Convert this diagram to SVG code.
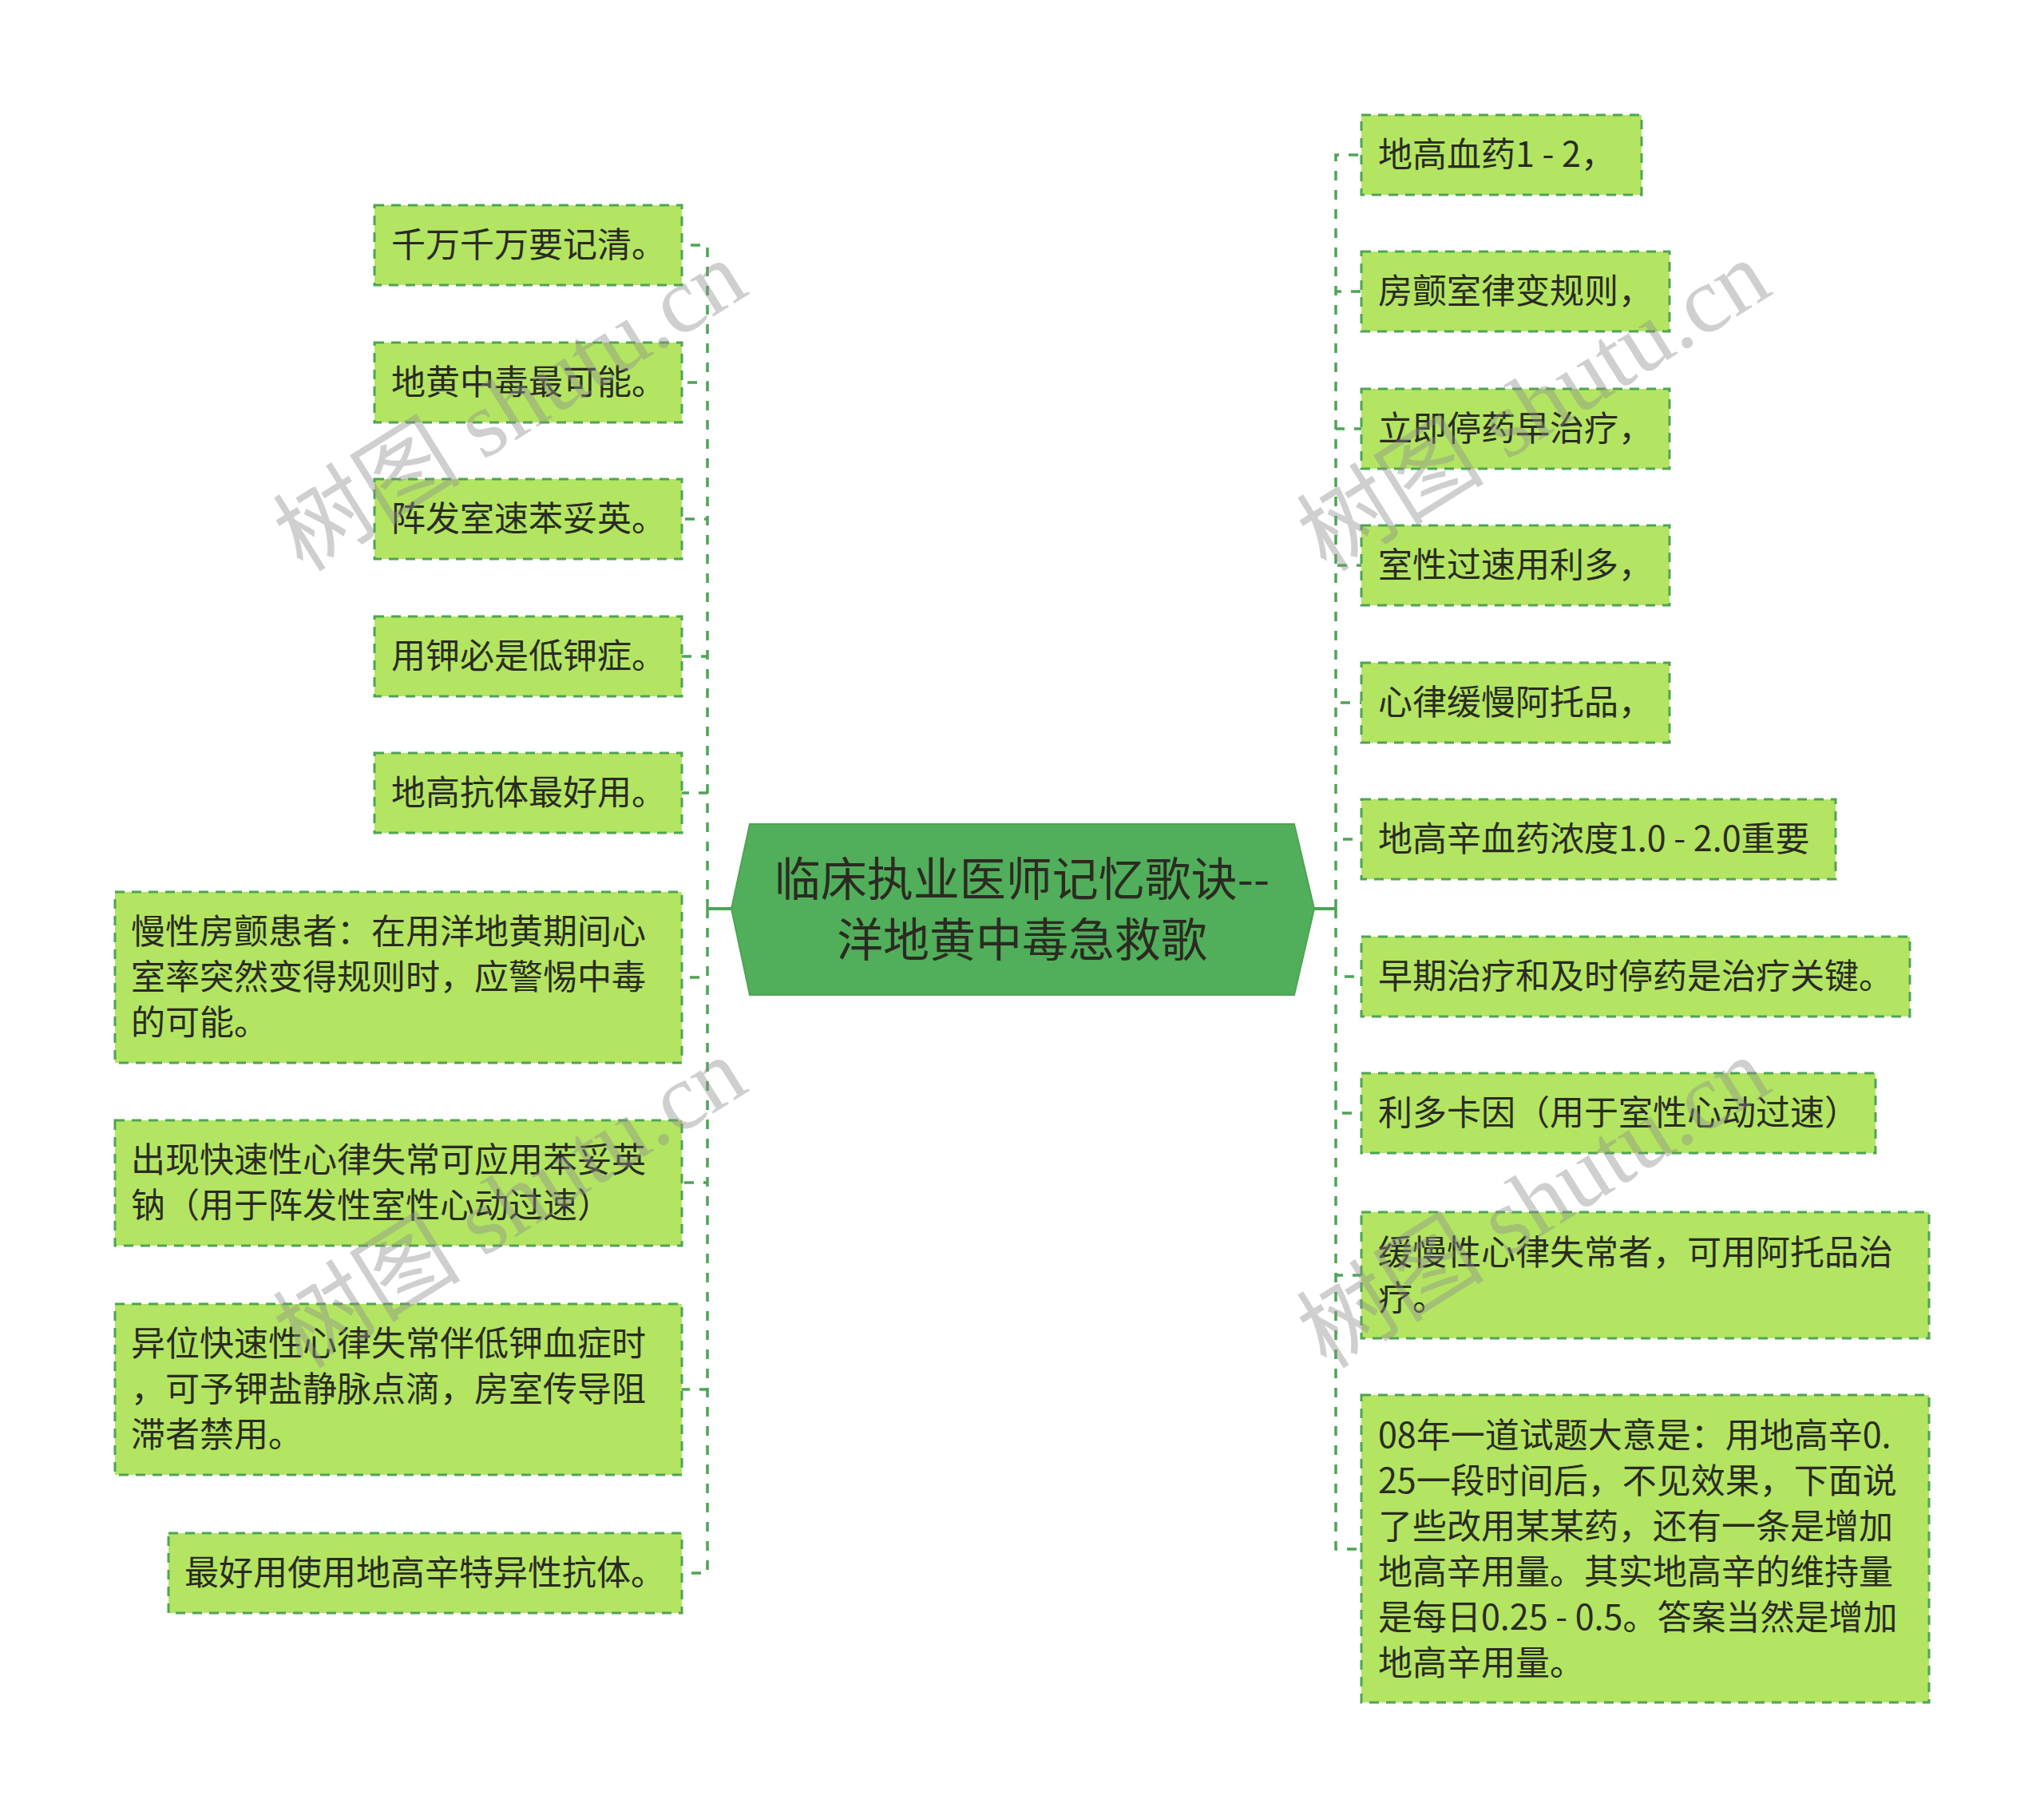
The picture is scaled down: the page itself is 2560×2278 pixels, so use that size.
<svg xmlns="http://www.w3.org/2000/svg" width="2560" height="2278" viewBox="0 0 2560 2278">
<style>
.bx{fill:#b3e562;stroke:#4ea455;stroke-width:3;stroke-dasharray:12 9}
.tx{font-family:"Noto Sans CJK SC","Noto Sans",sans-serif;font-size:43px;fill:#2b2b22}
.ct{font-family:"Noto Sans CJK SC","Noto Sans",sans-serif;font-size:58px;fill:#2b2b22;text-anchor:middle}
.cn{fill:none;stroke:#4ea455;stroke-width:3.5;stroke-dasharray:12 12}
.sl{fill:none;stroke:#4ea455;stroke-width:4}
.wm{font-family:"Liberation Serif","Noto Sans CJK SC",serif;font-size:118px;fill:#8c8c8c;fill-opacity:0.42;text-anchor:middle}
</style>
<rect width="2560" height="2278" fill="#ffffff"/>
<g id="connectors">
<path class="sl" d="M886 1138H916M1646 1138H1673"/>
<path class="cn" d="M886 1138V307H854M886 1138V479H854M886 1138V650H854M886 1138V822H854M886 1138V993H854M886 1138V1224H854M886 1138V1481H854M886 1138V1740H854M886 1138V1970H854"/>
<path class="cn" d="M1673 1138V194H1705M1673 1138V365H1705M1673 1138V537H1705M1673 1138V708H1705M1673 1138V880H1705M1673 1138V1051H1705M1673 1138V1223H1705M1673 1138V1394H1705M1673 1138V1597H1705M1673 1138V1940H1705"/>
</g>
<g id="center">
<polygon points="939,1032 1621,1032 1646,1138 1621,1246 939,1246 916,1138" fill="#51ae5a" stroke="#4ea455" stroke-width="2"/>
<text class="ct" x="1280" y="1122">临床执业医师记忆歌诀--</text>
<text class="ct" x="1280" y="1198">洋地黄中毒急救歌</text>
</g>
<g id="L1"><rect class="bx" x="469" y="257" width="385" height="100"/><text class="tx" x="490" y="322">千万千万要记清。</text></g>
<g id="L2"><rect class="bx" x="469" y="429" width="385" height="100"/><text class="tx" x="490" y="494">地黄中毒最可能。</text></g>
<g id="L3"><rect class="bx" x="469" y="600" width="385" height="100"/><text class="tx" x="490" y="665">阵发室速苯妥英。</text></g>
<g id="L4"><rect class="bx" x="469" y="772" width="385" height="100"/><text class="tx" x="490" y="837">用钾必是低钾症。</text></g>
<g id="L5"><rect class="bx" x="469" y="943" width="385" height="100"/><text class="tx" x="490" y="1008">地高抗体最好用。</text></g>
<g id="L6"><rect class="bx" x="144" y="1117" width="710" height="214"/><text class="tx" x="164" y="1182">慢性房颤患者：在用洋地黄期间心</text><text class="tx" x="164" y="1239">室率突然变得规则时，应警惕中毒</text><text class="tx" x="164" y="1296">的可能。</text></g>
<g id="L7"><rect class="bx" x="144" y="1403" width="710" height="157"/><text class="tx" x="164" y="1468">出现快速性心律失常可应用苯妥英</text><text class="tx" x="164" y="1525">钠（用于阵发性室性心动过速）</text></g>
<g id="L8"><rect class="bx" x="144" y="1633" width="710" height="214"/><text class="tx" x="164" y="1698">异位快速性心律失常伴低钾血症时</text><text class="tx" x="164" y="1755">，可予钾盐静脉点滴，房室传导阻</text><text class="tx" x="164" y="1812">滞者禁用。</text></g>
<g id="L9"><rect class="bx" x="211" y="1920" width="643" height="100"/><text class="tx" x="231" y="1985">最好用使用地高辛特异性抗体。</text></g>
<g id="R1"><rect class="bx" x="1705" y="144" width="351" height="100"/><text class="tx" x="1726" y="209">地高血药1 - 2，</text></g>
<g id="R2"><rect class="bx" x="1705" y="315" width="386" height="100"/><text class="tx" x="1726" y="380">房颤室律变规则，</text></g>
<g id="R3"><rect class="bx" x="1705" y="487" width="386" height="100"/><text class="tx" x="1726" y="552">立即停药早治疗，</text></g>
<g id="R4"><rect class="bx" x="1705" y="658" width="386" height="100"/><text class="tx" x="1726" y="723">室性过速用利多，</text></g>
<g id="R5"><rect class="bx" x="1705" y="830" width="386" height="100"/><text class="tx" x="1726" y="895">心律缓慢阿托品，</text></g>
<g id="R6"><rect class="bx" x="1705" y="1001" width="594" height="100"/><text class="tx" x="1726" y="1066">地高辛血药浓度1.0 - 2.0重要</text></g>
<g id="R7"><rect class="bx" x="1705" y="1173" width="687" height="100"/><text class="tx" x="1726" y="1238">早期治疗和及时停药是治疗关键。</text></g>
<g id="R8"><rect class="bx" x="1705" y="1344" width="644" height="100"/><text class="tx" x="1726" y="1409">利多卡因（用于室性心动过速）</text></g>
<g id="R9"><rect class="bx" x="1705" y="1518" width="711" height="158"/><text class="tx" x="1726" y="1584">缓慢性心律失常者，可用阿托品治</text><text class="tx" x="1726" y="1641">疗。</text></g>
<g id="R10"><rect class="bx" x="1705" y="1747" width="711" height="385"/><text class="tx" x="1726" y="1813">08年一道试题大意是：用地高辛0.</text><text class="tx" x="1726" y="1870">25一段时间后，不见效果，下面说</text><text class="tx" x="1726" y="1927">了些改用某某药，还有一条是增加</text><text class="tx" x="1726" y="1984">地高辛用量。其实地高辛的维持量</text><text class="tx" x="1726" y="2041">是每日0.25 - 0.5。答案当然是增加</text><text class="tx" x="1726" y="2098">地高辛用量。</text></g>
<g id="watermarks">
<text class="wm" transform="translate(640,510) rotate(-32)" y="38">树图 shutu.cn</text>
<text class="wm" transform="translate(1922,510) rotate(-32)" y="38">树图 shutu.cn</text>
<text class="wm" transform="translate(640,1508) rotate(-32)" y="38">树图 shutu.cn</text>
<text class="wm" transform="translate(1922,1508) rotate(-32)" y="38">树图 shutu.cn</text>
</g>
</svg>
